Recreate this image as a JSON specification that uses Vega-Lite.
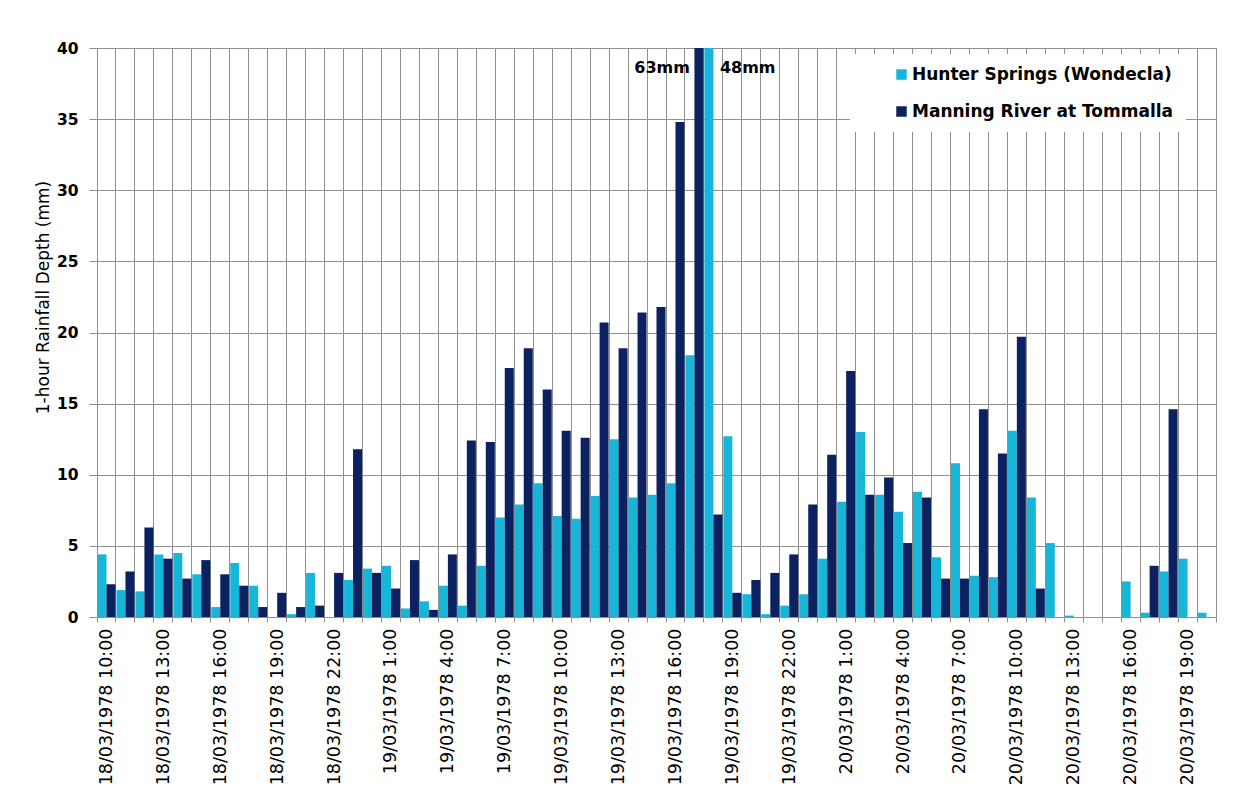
{
  "$schema": "https://vega.github.io/schema/vega-lite/v6.json",
  "width": 1119,
  "height": 569,
  "autosize": {"type": "none"},
  "padding": {"left": 97, "top": 48, "right": 40, "bottom": 195},
  "background": "white",
  "config": {
    "view": {"stroke": "#939393", "strokeWidth": 1},
    "font": "Liberation Sans"
  },
  "datasets": {
    "rain": [
      {"time": "18/03/1978 10:00", "hunter": 4.4, "manning": 2.3},
      {"time": "18/03/1978 11:00", "hunter": 1.9, "manning": 3.2},
      {"time": "18/03/1978 12:00", "hunter": 1.8, "manning": 6.3},
      {"time": "18/03/1978 13:00", "hunter": 4.4, "manning": 4.1},
      {"time": "18/03/1978 14:00", "hunter": 4.5, "manning": 2.7},
      {"time": "18/03/1978 15:00", "hunter": 3.0, "manning": 4.0},
      {"time": "18/03/1978 16:00", "hunter": 0.7, "manning": 3.0},
      {"time": "18/03/1978 17:00", "hunter": 3.8, "manning": 2.2},
      {"time": "18/03/1978 18:00", "hunter": 2.2, "manning": 0.7},
      {"time": "18/03/1978 19:00", "hunter": 0, "manning": 1.7},
      {"time": "18/03/1978 20:00", "hunter": 0.2, "manning": 0.7},
      {"time": "18/03/1978 21:00", "hunter": 3.1, "manning": 0.8},
      {"time": "18/03/1978 22:00", "hunter": 0, "manning": 3.1},
      {"time": "18/03/1978 23:00", "hunter": 2.6, "manning": 11.8},
      {"time": "19/03/1978 0:00", "hunter": 3.4, "manning": 3.1},
      {"time": "19/03/1978 1:00", "hunter": 3.6, "manning": 2.0},
      {"time": "19/03/1978 2:00", "hunter": 0.6, "manning": 4.0},
      {"time": "19/03/1978 3:00", "hunter": 1.1, "manning": 0.5},
      {"time": "19/03/1978 4:00", "hunter": 2.2, "manning": 4.4},
      {"time": "19/03/1978 5:00", "hunter": 0.8, "manning": 12.4},
      {"time": "19/03/1978 6:00", "hunter": 3.6, "manning": 12.3},
      {"time": "19/03/1978 7:00", "hunter": 7.0, "manning": 17.5},
      {"time": "19/03/1978 8:00", "hunter": 7.9, "manning": 18.9},
      {"time": "19/03/1978 9:00", "hunter": 9.4, "manning": 16.0},
      {"time": "19/03/1978 10:00", "hunter": 7.1, "manning": 13.1},
      {"time": "19/03/1978 11:00", "hunter": 6.9, "manning": 12.6},
      {"time": "19/03/1978 12:00", "hunter": 8.5, "manning": 20.7},
      {"time": "19/03/1978 13:00", "hunter": 12.5, "manning": 18.9},
      {"time": "19/03/1978 14:00", "hunter": 8.4, "manning": 21.4},
      {"time": "19/03/1978 15:00", "hunter": 8.6, "manning": 21.8},
      {"time": "19/03/1978 16:00", "hunter": 9.4, "manning": 34.8},
      {"time": "19/03/1978 17:00", "hunter": 18.4, "manning": 63},
      {"time": "19/03/1978 18:00", "hunter": 48, "manning": 7.2},
      {"time": "19/03/1978 19:00", "hunter": 12.7, "manning": 1.7},
      {"time": "19/03/1978 20:00", "hunter": 1.6, "manning": 2.6},
      {"time": "19/03/1978 21:00", "hunter": 0.2, "manning": 3.1},
      {"time": "19/03/1978 22:00", "hunter": 0.8, "manning": 4.4},
      {"time": "19/03/1978 23:00", "hunter": 1.6, "manning": 7.9},
      {"time": "20/03/1978 0:00", "hunter": 4.1, "manning": 11.4},
      {"time": "20/03/1978 1:00", "hunter": 8.1, "manning": 17.3},
      {"time": "20/03/1978 2:00", "hunter": 13.0, "manning": 8.6},
      {"time": "20/03/1978 3:00", "hunter": 8.6, "manning": 9.8},
      {"time": "20/03/1978 4:00", "hunter": 7.4, "manning": 5.2},
      {"time": "20/03/1978 5:00", "hunter": 8.8, "manning": 8.4},
      {"time": "20/03/1978 6:00", "hunter": 4.2, "manning": 2.7},
      {"time": "20/03/1978 7:00", "hunter": 10.8, "manning": 2.7},
      {"time": "20/03/1978 8:00", "hunter": 2.9, "manning": 14.6},
      {"time": "20/03/1978 9:00", "hunter": 2.8, "manning": 11.5},
      {"time": "20/03/1978 10:00", "hunter": 13.1, "manning": 19.7},
      {"time": "20/03/1978 11:00", "hunter": 8.4, "manning": 2.0},
      {"time": "20/03/1978 12:00", "hunter": 5.2, "manning": 0},
      {"time": "20/03/1978 13:00", "hunter": 0.1, "manning": 0},
      {"time": "20/03/1978 14:00", "hunter": 0, "manning": 0},
      {"time": "20/03/1978 15:00", "hunter": 0, "manning": 0},
      {"time": "20/03/1978 16:00", "hunter": 2.5, "manning": 0},
      {"time": "20/03/1978 17:00", "hunter": 0.3, "manning": 3.6},
      {"time": "20/03/1978 18:00", "hunter": 3.2, "manning": 14.6},
      {"time": "20/03/1978 19:00", "hunter": 4.1, "manning": 0},
      {"time": "20/03/1978 20:00", "hunter": 0.3, "manning": 0}
    ]
  },
  "data": {"name": "rain"},
  "transform": [
    {"fold": ["hunter", "manning"], "as": ["key", "mm"]},
    {"calculate": "datum.key == 'hunter' ? 'Hunter Springs (Wondecla)' : 'Manning River at Tommalla'", "as": "station"}
  ],
  "layer": [
    {
      "mark": {"type": "bar", "clip": true},
      "encoding": {
        "x": {
          "field": "time",
          "type": "nominal",
          "sort": null,
          "scale": {"paddingInner": 0.05, "paddingOuter": 0.025},
          "axis": {
            "title": null,
            "tickBand": "extent",
            "grid": true,
            "gridColor": "#8f8f8f",
            "gridWidth": 1,
            "tickColor": "#8f8f8f",
            "tickSize": 5,
            "domainColor": "#8f8f8f",
            "labelAngle": -90,
            "labelAlign": "right",
            "labelBaseline": "middle",
            "labelPadding": 6,
            "labelOverlap": false,
            "labelBound": false,
            "labelFont": "DejaVu Sans",
            "labelFontSize": 17.5,
            "labelColor": "black",
            "labelExpr": "toNumber(split(split(datum.value, ' ')[1], ':')[0]) % 3 == 1 ? datum.value : ''"
          }
        },
        "xOffset": {
          "field": "station",
          "type": "nominal",
          "sort": null,
          "scale": {"paddingInner": 0, "paddingOuter": 0}
        },
        "y": {
          "field": "mm",
          "type": "quantitative",
          "scale": {"domain": [0, 40], "nice": false},
          "axis": {
            "title": "1-hour Rainfall Depth (mm)",
            "values": [0, 5, 10, 15, 20, 25, 30, 35, 40],
            "grid": true,
            "gridColor": "#8f8f8f",
            "gridWidth": 1,
            "tickColor": "#8f8f8f",
            "tickSize": 8,
            "domainColor": "#8f8f8f",
            "labelFont": "DejaVu Sans",
            "labelFontWeight": "bold",
            "labelFontSize": 15.5,
            "labelColor": "black",
            "labelPadding": 11,
            "titleFont": "DejaVu Sans",
            "titleFontSize": 17,
            "titleFontWeight": "normal",
            "titleColor": "black",
            "titlePadding": 4,
            "titleY": 249
          }
        },
        "color": {
          "field": "station",
          "type": "nominal",
          "scale": {
            "domain": ["Hunter Springs (Wondecla)", "Manning River at Tommalla"],
            "range": ["#17b5d8", "#0c2160"]
          },
          "legend": {
            "title": null,
            "orient": "none",
            "legendX": 753,
            "legendY": 6,
            "fillColor": "white",
            "padding": 12,
            "symbolType": "square",
            "symbolSize": 110,
            "symbolOffset": 31,
            "symbolStrokeWidth": 0,
            "labelFont": "DejaVu Sans",
            "labelFontWeight": "bold",
            "labelFontSize": 17,
            "labelColor": "black",
            "labelLimit": 400,
            "labelOffset": 2,
            "rowPadding": 19
          }
        }
      }
    },
    {
      "transform": [
        {"filter": "datum.mm > 40 && datum.key == 'manning'"},
        {"calculate": "datum.mm + 'mm'", "as": "label"}
      ],
      "mark": {"type": "text", "align": "right", "baseline": "middle", "dx": -9, "font": "DejaVu Sans", "fontWeight": "bold", "fontSize": 16, "color": "black"},
      "encoding": {
        "x": {"field": "time", "type": "nominal", "sort": null},
        "xOffset": {"field": "station", "type": "nominal", "sort": null},
        "y": {"datum": 38.6},
        "text": {"field": "label"}
      }
    },
    {
      "transform": [
        {"filter": "datum.mm > 40 && datum.key == 'hunter'"},
        {"calculate": "datum.mm + 'mm'", "as": "label"}
      ],
      "mark": {"type": "text", "align": "left", "baseline": "middle", "dx": 11, "font": "DejaVu Sans", "fontWeight": "bold", "fontSize": 16, "color": "black"},
      "encoding": {
        "x": {"field": "time", "type": "nominal", "sort": null},
        "xOffset": {"field": "station", "type": "nominal", "sort": null},
        "y": {"datum": 38.6},
        "text": {"field": "label"}
      }
    }
  ]
}
